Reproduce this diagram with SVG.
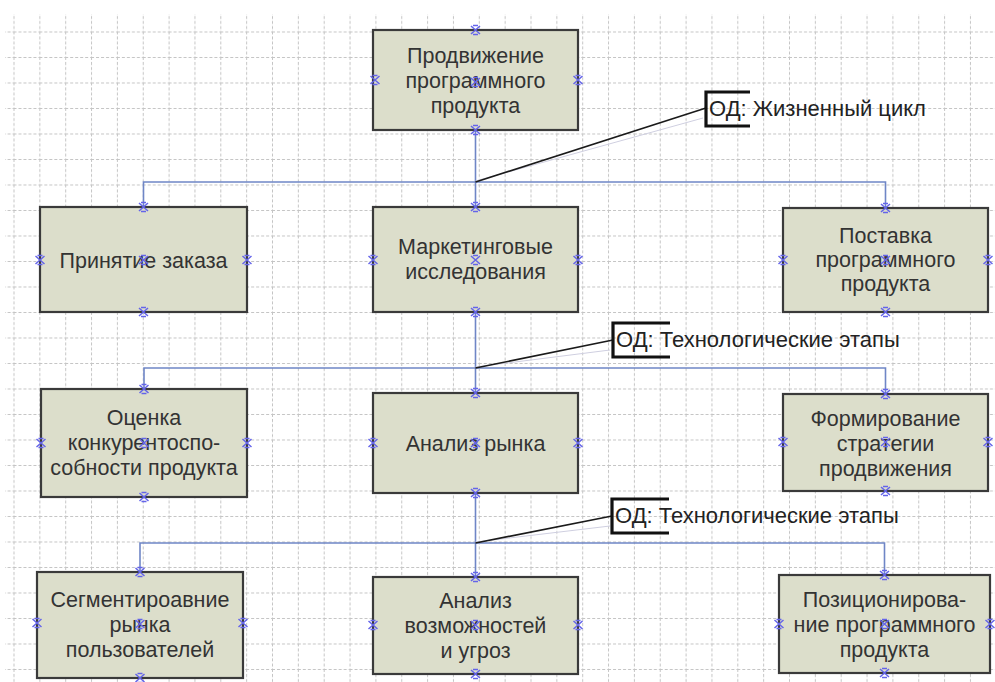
<svg xmlns="http://www.w3.org/2000/svg" xmlns:xlink="http://www.w3.org/1999/xlink" width="995" height="682" viewBox="0 0 995 682">
<style>
.box{fill:#dcdecb;stroke:#3a3a3a;stroke-width:2.2}
.t{font-family:"Liberation Sans",Arial,sans-serif;font-size:21.5px;fill:#333;text-anchor:middle}
.a{font-family:"Liberation Sans",Arial,sans-serif;font-size:22px;fill:#222}
.c{fill:none;stroke:#6f86c6;stroke-width:1.6}
.ln{fill:none;stroke:#1a1a1a;stroke-width:1.6}
.fl{fill:none;stroke:#cfcfe0;stroke-width:1}
.br{fill:none;stroke:#111;stroke-width:3.2}
.g{stroke:#c4c4c4;stroke-width:1;stroke-dasharray:3 2;fill:none}
</style>
<defs>
<pattern id="grid" patternUnits="userSpaceOnUse" x="13.5" y="31.5" width="25.85" height="25.5">
<path class="g" d="M0 0.5H25.85M0.5 0V25.5"/>
</pattern>
<g id="m"><path d="M-4.5-4L4.5 4M4.5-4L-4.5 4M-2.5-4.5H2.5M-2.5 4.5H2.5" fill="none" stroke="#6464ea" stroke-width="1.5"/></g>
</defs>
<rect width="995" height="682" fill="#fff"/>
<rect x="5" y="14" width="990" height="668" fill="url(#grid)"/>

<g id="connectors">
<path class="c" d="M475.5 130V207M143.5 207V182H885.5V208"/>
<path class="c" d="M475.5 312V393M144 389V368H885.5V394"/>
<path class="c" d="M475.5 493V577M140 572V543H884.5V575"/>
<path class="fl" d="M475.5 181L703 118"/>
<path class="fl" d="M475.5 367L610 350"/>
<path class="fl" d="M475.5 542L610 526"/>
<path class="ln" d="M475.5 182L706 108"/>
<path class="ln" d="M475.5 368L613 340"/>
<path class="ln" d="M475.5 543L612 516"/>
</g>

<g id="ann1">
<path class="br" d="M750 92H706V126H750"/>
<text class="a" x="709" y="116">ОД: Жизненный цикл</text>
</g>
<g id="ann2">
<path class="br" d="M670 323H613V357H670"/>
<text class="a" x="616" y="347">ОД: Технологические этапы</text>
</g>
<g id="ann3">
<path class="br" d="M669 499H612V533H669"/>
<text class="a" x="615" y="523">ОД: Технологические этапы</text>
</g>

<g id="n1">
<rect class="box" x="373" y="30" width="205" height="100"/>
<text class="t"><tspan x="475.5" y="63">Продвижение</tspan><tspan x="475.5" y="88">программного</tspan><tspan x="475.5" y="113">продукта</tspan></text>
<use href="#m" x="475.5" y="30"/><use href="#m" x="475.5" y="130"/><use href="#m" x="375" y="80"/><use href="#m" x="578" y="80"/><use href="#m" x="475.5" y="82"/>
</g>

<g id="n2">
<rect class="box" x="40" y="207" width="207" height="105"/>
<text class="t" x="143.5" y="268">Принятие заказа</text>
<use href="#m" x="143.5" y="207"/><use href="#m" x="143.5" y="312"/><use href="#m" x="40" y="260"/><use href="#m" x="247" y="260"/><use href="#m" x="143.5" y="260"/>
</g>

<g id="n3">
<rect class="box" x="373" y="207" width="205" height="105"/>
<text class="t"><tspan x="475.5" y="254">Маркетинговые</tspan><tspan x="475.5" y="279">исследования</tspan></text>
<use href="#m" x="475.5" y="207"/><use href="#m" x="475.5" y="312"/><use href="#m" x="373" y="260"/><use href="#m" x="578" y="260"/><use href="#m" x="475.5" y="260"/>
</g>

<g id="n4">
<rect class="box" x="783" y="208" width="205" height="104"/>
<text class="t"><tspan x="885.5" y="243">Поставка</tspan><tspan x="885.5" y="267">программного</tspan><tspan x="885.5" y="291">продукта</tspan></text>
<use href="#m" x="885.5" y="208"/><use href="#m" x="885.5" y="312"/><use href="#m" x="783" y="260"/><use href="#m" x="988" y="260"/><use href="#m" x="885.5" y="260"/>
</g>

<g id="n5">
<rect class="box" x="41" y="389" width="206" height="108"/>
<text class="t"><tspan x="144" y="425">Оценка</tspan><tspan x="144" y="450">конкурентоспо-</tspan><tspan x="144" y="475">собности продукта</tspan></text>
<use href="#m" x="144" y="389"/><use href="#m" x="144" y="497"/><use href="#m" x="41" y="443"/><use href="#m" x="247" y="443"/><use href="#m" x="144" y="443"/>
</g>

<g id="n6">
<rect class="box" x="373" y="393" width="205" height="100"/>
<text class="t" x="475.5" y="451">Анализ рынка</text>
<use href="#m" x="475.5" y="393"/><use href="#m" x="475.5" y="493"/><use href="#m" x="373" y="443"/><use href="#m" x="578" y="443"/><use href="#m" x="475.5" y="443"/>
</g>

<g id="n7">
<rect class="box" x="783" y="394" width="205" height="97"/>
<text class="t"><tspan x="885.5" y="426">Формирование</tspan><tspan x="885.5" y="451">стратегии</tspan><tspan x="885.5" y="476">продвижения</tspan></text>
<use href="#m" x="885.5" y="394"/><use href="#m" x="885.5" y="491"/><use href="#m" x="783" y="442"/><use href="#m" x="988" y="442"/><use href="#m" x="885.5" y="442"/>
</g>

<g id="n8">
<rect class="box" x="37" y="572" width="206" height="106"/>
<text class="t"><tspan x="140" y="607">Сегментироавние</tspan><tspan x="140" y="632">рынка</tspan><tspan x="140" y="657">пользователей</tspan></text>
<use href="#m" x="140" y="572"/><use href="#m" x="140" y="678"/><use href="#m" x="37" y="623"/><use href="#m" x="243" y="623"/><use href="#m" x="140" y="624"/>
</g>

<g id="n9">
<rect class="box" x="373" y="577" width="205" height="97"/>
<text class="t"><tspan x="475.5" y="608">Анализ</tspan><tspan x="475.5" y="633">возможностей</tspan><tspan x="475.5" y="658">и угроз</tspan></text>
<use href="#m" x="475.5" y="577"/><use href="#m" x="475.5" y="674"/><use href="#m" x="373" y="625"/><use href="#m" x="578" y="625"/><use href="#m" x="475.5" y="625"/>
</g>

<g id="n10">
<rect class="box" x="779" y="575" width="211" height="98"/>
<text class="t"><tspan x="884.5" y="607">Позиционирова-</tspan><tspan x="884.5" y="632">ние программного</tspan><tspan x="884.5" y="657">продукта</tspan></text>
<use href="#m" x="884.5" y="575"/><use href="#m" x="884.5" y="673"/><use href="#m" x="779" y="624"/><use href="#m" x="990" y="624"/><use href="#m" x="884.5" y="624"/>
</g>
</svg>
